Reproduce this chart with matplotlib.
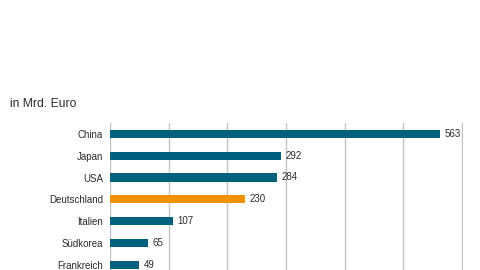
import matplotlib.pyplot as plt

plt.rcParams['font.family'] = ['Liberation Sans', 'DejaVu Sans']

countries = ["China", "Japan", "USA", "Deutschland", "Italien", "Südkorea", "Frankreich"]
values = [563, 292, 284, 230, 107, 65, 49]
highlight = "Deutschland"

teal = "#00617f"
orange = "#f39200"
colors = [orange if c == highlight else teal for c in countries]

fig = plt.figure(figsize=(4.8, 2.7), dpi=100)
# axes runs past the bottom edge, the reference is cut off there
ax = fig.add_axes([110 / 480, 1 - 286.5 / 270, (463 - 110) / 480, (286.5 - 123) / 270])

ypos = list(range(len(countries)))
ax.barh(ypos, values, height=0.38, color=colors, zorder=3)

for y, v in zip(ypos, values):
    ax.text(v + 8, y, str(v), va='center', ha='left', fontsize=7, color='#2b2b2b')

ax.set_xlim(0, 602)
ax.set_ylim(7.0, -0.5)
ax.set_xticks(range(0, 601, 100))
ax.set_yticks(ypos)
ax.set_yticklabels(countries, fontsize=7, color='#2b2b2b')
ax.tick_params(axis='y', length=0, pad=5)
ax.tick_params(axis='x', length=0, labelbottom=False)
ax.grid(axis='x', color='#c4c4c4', linewidth=1.0, zorder=0)
for s in ax.spines.values():
    s.set_visible(False)

fig.text(10 / 480, 1 - 104 / 270, "in Mrd. Euro", fontsize=8.7, color='#2b2b2b', va='center', ha='left')

plt.savefig("out.png", dpi=100)
plt.close(fig)
